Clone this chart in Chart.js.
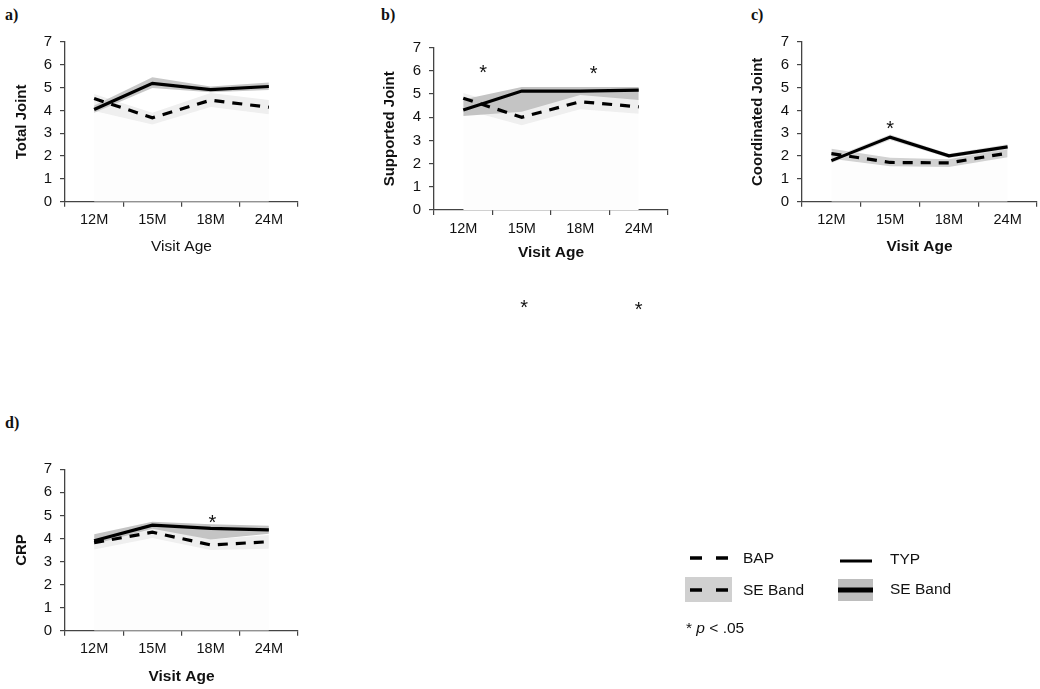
<!DOCTYPE html>
<html>
<head>
<meta charset="utf-8">
<script src="https://cdn.jsdelivr.net/npm/chart.js@4"></script>
<style>
  body { margin: 0; background: #fff; width: 1040px; height: 689px; position: relative; overflow: hidden;
         font-family: 'Liberation Sans', Arial, sans-serif; color: #111; }
  .panel { position: absolute; }
  .tag { position: absolute; font: bold 16px 'Liberation Serif', 'Times New Roman', serif; line-height: 16px; }
  .lg { position: absolute; font-size: 15.5px; line-height: 18px; transform: translateY(-50%); white-space: nowrap; }
</style>
</head>
<body>

<div class="tag" style="left:5px; top:7px">a)</div>
<div class="tag" style="left:381px; top:7px">b)</div>
<div class="tag" style="left:751px; top:7px">c)</div>
<div class="tag" style="left:5px; top:415px">d)</div>

<div class="panel" style="left:0; top:25px; width:305px; height:245px"><canvas id="chartA"></canvas></div>
<div class="panel" style="left:340px; top:25px; width:335px; height:295px"><canvas id="chartB"></canvas></div>
<div class="panel" style="left:700px; top:25px; width:340px; height:245px"><canvas id="chartC"></canvas></div>
<div class="panel" style="left:0; top:440px; width:305px; height:249px"><canvas id="chartD"></canvas></div>

<!-- legend -->
<svg style="position:absolute; left:0; top:0" width="1040" height="689">
  <line x1="690" y1="558" x2="728" y2="558" stroke="#000" stroke-width="3.5" stroke-dasharray="12,14"/>
  <rect x="685" y="577" width="47" height="25" fill="#d0d0d0"/>
  <line x1="690" y1="590" x2="728" y2="590" stroke="#000" stroke-width="3.5" stroke-dasharray="12,14"/>
  <line x1="840" y1="561" x2="872" y2="561" stroke="#000" stroke-width="3"/>
  <rect x="838" y="579" width="35" height="22" fill="#bdbdbd"/>
  <line x1="838" y1="590" x2="873" y2="590" stroke="#000" stroke-width="5"/>
</svg>
<div class="lg" style="left:743px; top:558px">BAP</div>
<div class="lg" style="left:743px; top:590px">SE Band</div>
<div class="lg" style="left:890px; top:559px">TYP</div>
<div class="lg" style="left:890px; top:589px">SE Band</div>
<div class="lg" style="left:686px; top:628px">* <i>p</i> &lt; .05</div>

<script>
// categories and axis ticks
const ages = ['12M', '15M', '18M', '24M'];
const yTicks = [0, 1, 2, 3, 4, 5, 6, 7];

// a) Total Joint
const totalTyp   = [4.04, 5.19, 4.91, 5.05];
const totalTypLo = [3.90, 4.98, 4.80, 4.90];
const totalTypHi = [4.22, 5.45, 5.05, 5.22];
const totalBap   = [4.52, 3.68, 4.45, 4.14];
const totalBapLo = [3.98, 3.38, 4.15, 3.83];
const totalBapHi = [4.72, 3.90, 4.76, 4.46];

// b) Supported Joint
const suppTyp   = [4.31, 5.13, 5.13, 5.17];
const suppTypLo = [4.05, 4.24, 4.96, 4.74];
const suppTypHi = [4.77, 5.30, 5.30, 5.30];
const suppBap   = [4.82, 4.00, 4.67, 4.45];
const suppBapLo = [4.35, 3.65, 4.35, 4.15];
const suppBapHi = [5.05, 4.30, 5.00, 4.75];
const suppSigAt  = [0.34, 2.23, 1.04, 3.00];   // category position of the asterisks
const suppSigVal = [6.16, 6.12, -4.00, -4.05];

// c) Coordinated Joint
const coordTyp   = [1.80, 2.83, 2.01, 2.40];
const coordTypLo = [1.70, 2.70, 1.92, 2.28];
const coordTypHi = [1.92, 2.95, 2.10, 2.52];
const coordBap   = [2.11, 1.72, 1.70, 2.13];
const coordBapLo = [1.88, 1.55, 1.52, 1.95];
const coordBapHi = [2.32, 1.93, 1.86, 2.33];
const coordSigAt  = [1.00];
const coordSigVal = [3.43];

// d) CRP
const crpTyp   = [3.90, 4.58, 4.44, 4.37];
const crpTypLo = [3.75, 4.42, 3.95, 4.20];
const crpTypHi = [4.18, 4.73, 4.62, 4.55];
const crpBap   = [3.82, 4.27, 3.72, 3.86];
const crpBapLo = [3.52, 4.02, 3.50, 3.55];
const crpBapHi = [4.10, 4.48, 3.96, 4.15];
const crpSigAt  = [2.03];
const crpSigVal = [4.93];

Chart.defaults.font.family = "'Liberation Sans', Arial, sans-serif";
Chart.defaults.color = '#111';

// draws the significance asterisks at (category position, value)
const sigPlugin = {
    id: 'sig',
    afterDatasetsDraw(chart, args, opts) {
        const pos = opts.at || [];
        const vals = opts.val || [];
        if (!pos.length) return;
        const { ctx, scales: { x, y } } = chart;
        const x0 = x.getPixelForValue(0);
        const step = x.getPixelForValue(1) - x0;
        const size = 20;
        ctx.save();
        ctx.font = size + "px 'Liberation Sans', Arial, sans-serif";
        ctx.fillStyle = '#111';
        ctx.textAlign = 'center';
        ctx.textBaseline = 'alphabetic';
        pos.forEach((p, i) => {
            ctx.fillText('*', x0 + p * step, y.getPixelForValue(vals[i]) + size * 0.58);
        });
        ctx.restore();
    }
};

const makePanel = (id, cfg) => {
    const band = { borderWidth: 0, pointRadius: 0, tension: 0 };
    new Chart(document.getElementById(id), {
        type: 'line',
        data: {
            labels: ages,
            datasets: [
                { ...band, data: cfg.bapLo, fill: 'origin', backgroundColor: '#fdfdfd', order: 60 },
                { ...band, data: cfg.bapHi, fill: '-1', backgroundColor: cfg.bapBand, order: 50 },
                { ...band, data: cfg.typLo, fill: false, order: 45 },
                { ...band, data: cfg.typHi, fill: '-1', backgroundColor: cfg.typBand, order: 40 },
                { data: cfg.bap, borderColor: '#000', borderWidth: 3.2, borderDash: [10, 8],
                  pointRadius: 0, fill: false, tension: 0, order: 20 },
                { data: cfg.typ, borderColor: '#000', borderWidth: 3.2,
                  pointRadius: 0, fill: false, tension: 0, order: 10 }
            ]
        },
        options: {
            responsive: true,
            maintainAspectRatio: false,
            animation: false,
            events: [],
            layout: { padding: { top: cfg.padTop, right: cfg.padRight, left: 0, bottom: 0 } },
            plugins: {
                legend: { display: false },
                tooltip: { enabled: false },
                sig: { at: cfg.sigAt, val: cfg.sigVal }
            },
            scales: {
                x: {
                    offset: true,
                    grid: { offset: true, drawOnChartArea: false, tickLength: 5, color: '#444', lineWidth: 1.2 },
                    border: { color: '#444', width: 1.3 },
                    ticks: { font: { size: 14.5 }, color: '#111', padding: 5, maxRotation: 0 },
                    title: {
                        display: true, text: 'Visit Age', color: '#111',
                        font: { size: 15.5, weight: cfg.xBold ? 'bold' : 'normal' },
                        padding: { top: 0, bottom: cfg.xTitlePad }
                    },
                    afterFit: s => { s.height = cfg.xHeight; }
                },
                y: {
                    min: yTicks[0],
                    max: yTicks[yTicks.length - 1],
                    ticks: { stepSize: 1, font: { size: 15 }, color: '#111', padding: 8 },
                    grid: { drawOnChartArea: false, tickLength: 5, color: '#444', lineWidth: 1.2 },
                    border: { color: '#444', width: 1.3 },
                    title: {
                        display: true, text: cfg.yTitle, color: '#111',
                        font: { size: 15, weight: 'bold' },
                        padding: { top: cfg.yTitlePad, bottom: 0 }
                    },
                    afterFit: s => { s.width = cfg.yWidth; }
                }
            }
        },
        plugins: [sigPlugin]
    });
};

makePanel('chartA', {
    typ: totalTyp, typLo: totalTypLo, typHi: totalTypHi,
    bap: totalBap, bapLo: totalBapLo, bapHi: totalBapHi,
    typBand: '#c8c8c8', bapBand: '#efefef',
    yTitle: 'Total Joint', xBold: false,
    padTop: 15, padRight: 7, yWidth: 65, xHeight: 68.3, xTitlePad: 14, yTitlePad: 13
});

makePanel('chartB', {
    typ: suppTyp, typLo: suppTypLo, typHi: suppTypHi,
    bap: suppBap, bapLo: suppBapLo, bapHi: suppBapHi,
    typBand: '#c4c4c4', bapBand: '#efefef',
    sigAt: suppSigAt, sigVal: suppSigVal,
    yTitle: 'Supported Joint', xBold: true,
    padTop: 22.7, padRight: 7, yWidth: 94, xHeight: 110, xTitlePad: 58, yTitlePad: 41
});

makePanel('chartC', {
    typ: coordTyp, typLo: coordTypLo, typHi: coordTypHi,
    bap: coordBap, bapLo: coordBapLo, bapHi: coordBapHi,
    typBand: '#dedede', bapBand: '#d2d2d2',
    sigAt: coordSigAt, sigVal: coordSigVal,
    yTitle: 'Coordinated Joint', xBold: true,
    padTop: 14.3, padRight: 3, yWidth: 102, xHeight: 68.3, xTitlePad: 14, yTitlePad: 49
});

makePanel('chartD', {
    typ: crpTyp, typLo: crpTypLo, typHi: crpTypHi,
    bap: crpBap, bapLo: crpBapLo, bapHi: crpBapHi,
    typBand: '#c4c4c4', bapBand: '#efefef',
    sigAt: crpSigAt, sigVal: crpSigVal,
    yTitle: 'CRP', xBold: true,
    padTop: 29.3, padRight: 7, yWidth: 65, xHeight: 58.3, xTitlePad: 3, yTitlePad: 13
});
</script>
</body>
</html>
